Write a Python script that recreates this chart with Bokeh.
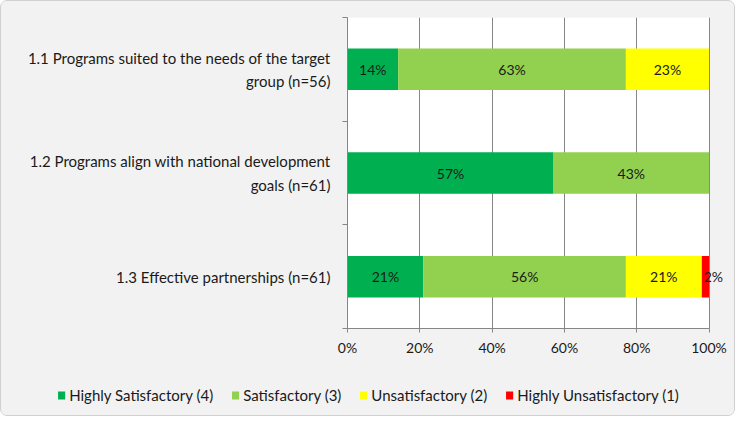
from bokeh.plotting import figure
from bokeh.layouts import column
from bokeh.models import (Range1d, FixedTicker, PrintfTickFormatter,
                          Legend, LegendItem, ColumnDataSource, BoxAnnotation)
from bokeh.core.properties import value
from bokeh.embed import file_html
from bokeh.resources import INLINE

# ---- data ----
categories = ["1.1 Programs suited to the needs of the target\ngroup (n=56)",
              "1.2 Programs align with national development\ngoals (n=61)",
              "1.3 Effective partnerships (n=61)"]
series_names = ["Highly Satisfactory (4)", "Satisfactory (3)",
                "Unsatisfactory (2)", "Highly Unsatisfactory (1)"]
highly_satisfactory = [14, 57, 21]
satisfactory = [63, 43, 56]
unsatisfactory = [23, 0, 21]
highly_unsatisfactory = [0, 0, 2]
x_ticks = [0, 20, 40, 60, 80, 100]
colors = ["#00B050", "#92D050", "#FFFF00", "#FF0000"]

FONT = "Lato"
FS_NUM = "14px"
FS_TXT = "15px"
TXT = "#1a1a1a"
AXC = "#868686"
BG = "#f2f2f2"

series_vals = [highly_satisfactory, satisfactory, unsatisfactory, highly_unsatisfactory]
n = len(categories)
ys = [n - i - 0.5 for i in range(n)]

p = figure(width=733, height=374, output_backend="svg", toolbar_location=None,
           x_range=Range1d(0, 104), y_range=Range1d(0, n),
           min_border_left=346, min_border_right=11, min_border_top=16, min_border_bottom=47,
           background_fill_color=BG, border_fill_color=BG,
           outline_line_color=None)

# white plot area (0..100 %)
p.add_layout(BoxAnnotation(left=0, right=100, fill_color="white", fill_alpha=1,
                           line_color=None, level="image"))

# axes
p.xaxis.ticker = FixedTicker(ticks=x_ticks)
p.xaxis.bounds = (0, 100)
p.xaxis.formatter = PrintfTickFormatter(format="%d%%")
p.xaxis.axis_line_color = AXC
p.xaxis.major_tick_line_color = AXC
p.xaxis.major_tick_out = 4
p.xaxis.major_tick_in = 0
p.xaxis.minor_tick_line_color = None
p.xaxis.major_label_text_font = FONT
p.xaxis.major_label_text_font_size = FS_NUM
p.xaxis.major_label_text_color = TXT
p.xaxis.major_label_standoff = 6

p.yaxis.ticker = FixedTicker(ticks=ys, minor_ticks=list(range(n + 1)))
p.yaxis.major_label_overrides = {y: c for y, c in zip(ys, categories)}
p.yaxis.axis_line_color = AXC
p.yaxis.major_tick_line_color = None
p.yaxis.major_tick_out = 0
p.yaxis.major_tick_in = 0
p.yaxis.minor_tick_line_color = AXC
p.yaxis.minor_tick_out = 5
p.yaxis.minor_tick_in = 0
p.yaxis.major_label_standoff = 12
p.yaxis.major_label_text_font = FONT
p.yaxis.major_label_text_font_size = FS_TXT
p.yaxis.major_label_text_color = TXT
p.yaxis.major_label_text_line_height = 1.3
p.yaxis.major_label_text_align = "center"

p.xgrid.ticker = FixedTicker(ticks=x_ticks)
p.xgrid.grid_line_color = AXC
p.ygrid.grid_line_color = None

# legend panel (separate figure so the legend can be centred on the whole chart)
lg = figure(width=733, height=40, output_backend="svg", toolbar_location=None,
            x_range=Range1d(0, 104), y_range=Range1d(0, n),
            x_axis_location=None, y_axis_location=None,
            min_border_left=0, min_border_right=0, min_border_top=0, min_border_bottom=0,
            background_fill_color=BG, border_fill_color=BG, outline_line_color=None)
lg.grid.grid_line_color = None
for fig in (p, lg):
    if "frame_align" in fig.properties():
        fig.frame_align = False

# stacked bars
renderers = []
lefts = [0.0] * n
lab_x, lab_y, lab_t, lab_off = [], [], [], []
for name, vals, col in zip(series_names, series_vals, colors):
    rights = [l + v for l, v in zip(lefts, vals)]
    src = ColumnDataSource(dict(y=ys, left=lefts, right=rights))
    p.hbar(y="y", left="left", right="right", height=0.4, source=src,
           fill_color=col, line_color=None)
    r = lg.hbar(y="y", left="left", right="right", height=0.4, source=src,
                fill_color=col, line_color=None, visible=False)
    renderers.append(r)
    for l, v, y in zip(lefts, vals, ys):
        if v > 0:
            lab_x.append(l + v / 2)
            lab_y.append(y)
            lab_t.append(f"{v}%")
            lab_off.append(8 if v < 5 else 0)
    lefts = rights

lsrc = ColumnDataSource(dict(x=lab_x, y=lab_y, t=lab_t, off=lab_off))
p.text(x="x", y="y", text="t", x_offset="off", source=lsrc, text_align="center",
       text_baseline="middle", text_font=value(FONT), text_font_size=FS_NUM, text_color=TXT)

legend = Legend(items=[LegendItem(label=nm, renderers=[r]) for nm, r in zip(series_names, renderers)],
                location="center", orientation="horizontal",
                glyph_width=9, glyph_height=10, label_standoff=4, spacing=17,
                padding=0, margin=0, background_fill_alpha=0, border_line_color=None,
                inactive_fill_alpha=0,
                label_text_font=FONT, label_text_font_size=FS_TXT, label_text_color=TXT)
lg.add_layout(legend)

layout = column(p, lg, spacing=0)
layout.styles = {"border": "1px solid #d0d0d0", "border-radius": "7px",
                 "background-color": BG, "overflow": "hidden"}

open("out.html", "w").write(file_html(layout, INLINE))
